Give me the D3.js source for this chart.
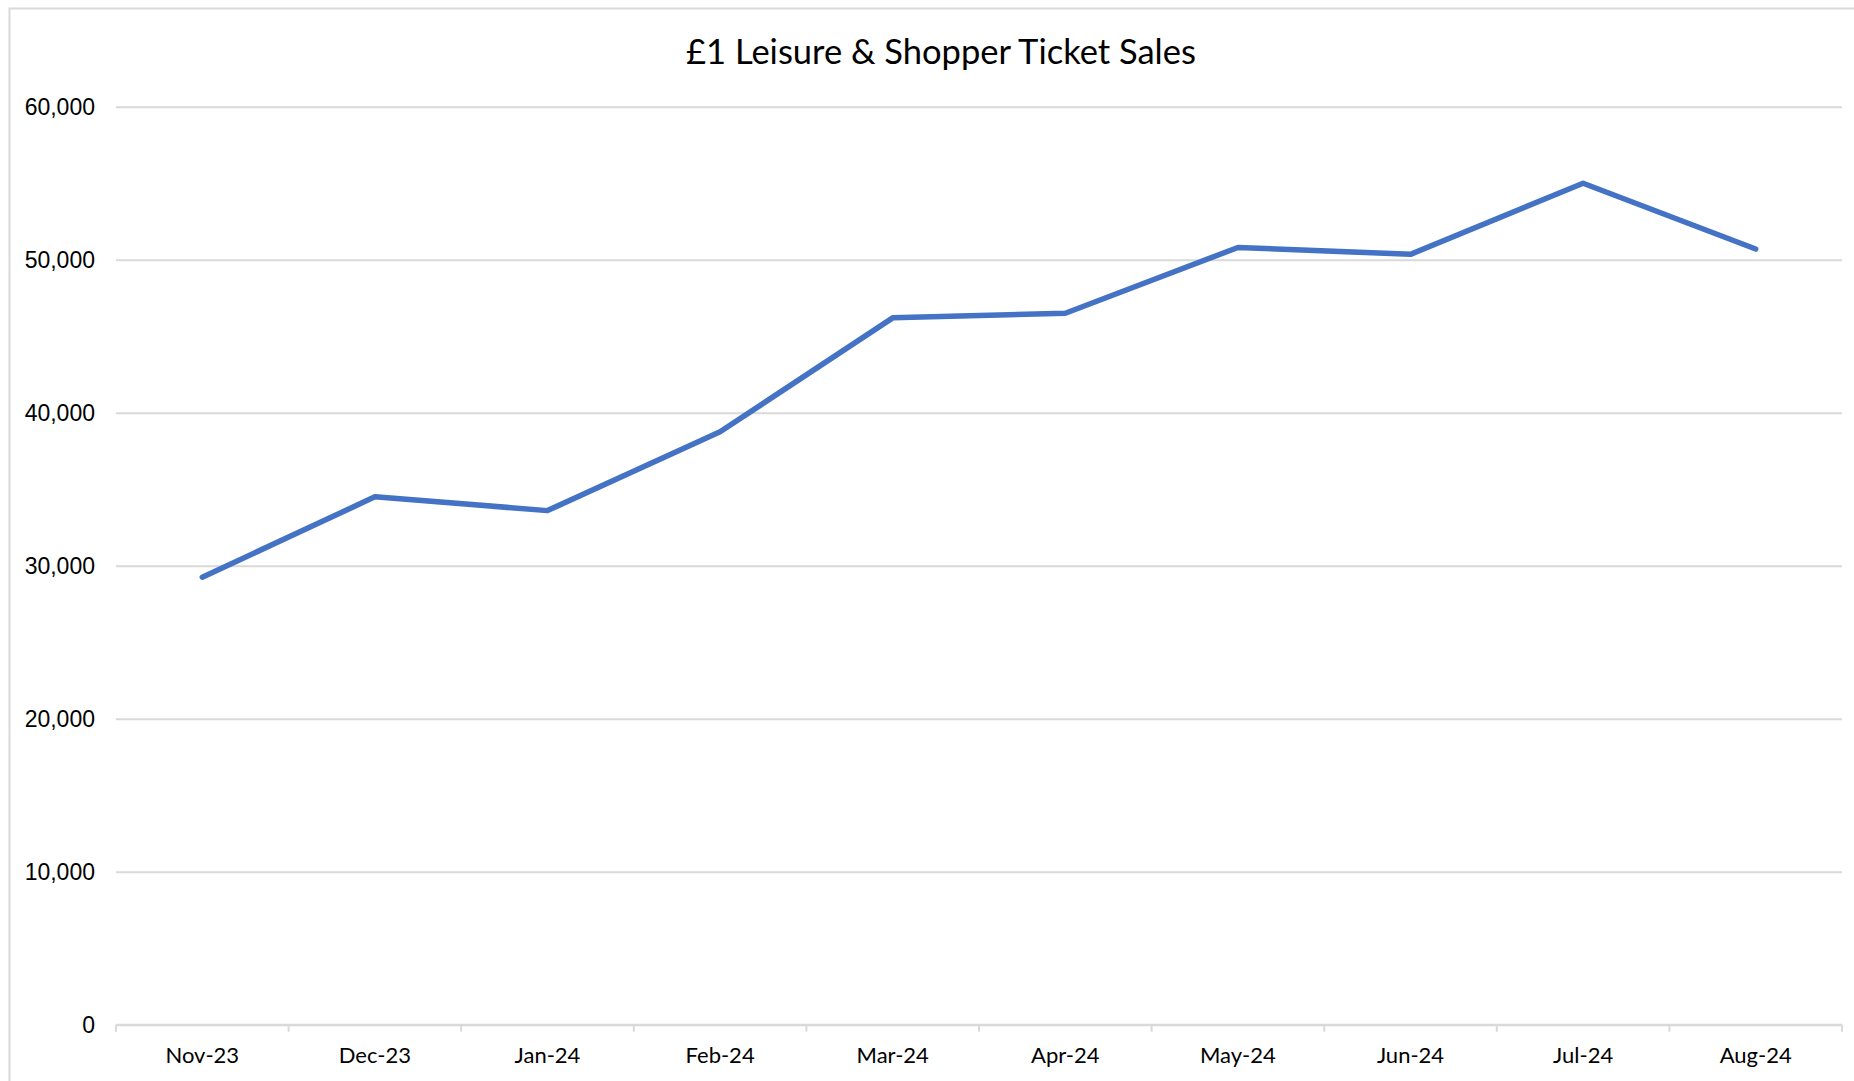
<!DOCTYPE html>
<html>
<head>
<meta charset="utf-8">
<script src="https://cdn.jsdelivr.net/npm/d3@7"></script>
<style>
  body { margin: 0; background: #fff; }
  svg { display: block; font-family: Lato, "Open Sans", sans-serif; }
</style>
</head>
<body>
<div id="chart"></div>
<script>
// Chart data
const months = ["Nov-23", "Dec-23", "Jan-24", "Feb-24", "Mar-24", "Apr-24", "May-24", "Jun-24", "Jul-24", "Aug-24"];
const sales = [29250, 34500, 33600, 38750, 46200, 46500, 50800, 50350, 55000, 50700];
const yTicks = [0, 10000, 20000, 30000, 40000, 50000, 60000];
const title = "£1 Leisure & Shopper Ticket Sales";

const width = 1854, height = 1081;
const margins = {top: 106.7, right: 12, bottom: 56.3, left: 116};

const svg = d3.select("#chart")
  .append("svg")
  .attr("width", width)
  .attr("height", height);

// Chart area border
svg.append("rect")
  .attr("x", 9.5)
  .attr("y", 8.5)
  .attr("width", width + 20)
  .attr("height", height + 20)
  .attr("fill", "none")
  .attr("stroke", "#d9d9d9")
  .attr("stroke-width", 2);

// Scales
const x = d3.scaleBand()
  .domain(months)
  .range([margins.left, width - margins.right]);

const y = d3.scaleLinear()
  .domain([0, 60000])
  .range([height - margins.bottom, margins.top]);

// Gridlines and y labels
const yAxis = d3.axisLeft(y)
  .tickValues(yTicks)
  .tickSize(-(width - margins.right - margins.left))
  .tickPadding(21)
  .tickFormat(d3.format(","));

svg.append("g")
    .attr("transform", `translate(${margins.left},0)`)
  .call(yAxis)
  .call(g => g.select(".domain").remove())
  .call(g => g.selectAll(".tick line").attr("stroke", "#d9d9d9").attr("stroke-width", 2))
  .call(g => g.selectAll(".tick text")
    .attr("fill", "#000")
    .style("font-size", "23px"));

// X axis with ticks between categories
const xg = svg.append("g")
  .attr("transform", `translate(0,${height - margins.bottom})`);

xg.append("line")
  .attr("x1", margins.left)
  .attr("x2", width - margins.right)
  .attr("stroke", "#d9d9d9")
  .attr("stroke-width", 2);

const bounds = months.map(d => x(d)).concat([x.range()[1]]);
xg.selectAll("line.tk")
  .data(bounds)
  .join("line")
    .attr("class", "tk")
    .attr("x1", d => d)
    .attr("x2", d => d)
    .attr("y1", 0)
    .attr("y2", 7)
    .attr("stroke", "#d9d9d9")
    .attr("stroke-width", 2);

xg.selectAll("text")
  .data(months)
  .join("text")
    .attr("x", d => x(d) + x.bandwidth() / 2)
    .attr("y", 31)
    .attr("dy", "0.35em")
    .attr("text-anchor", "middle")
    .style("font-size", "22px")
    .attr("fill", "#000")
    .text(d => d);

// Sales line
const line = d3.line()
  .x((d, i) => x(months[i]) + x.bandwidth() / 2)
  .y(d => y(d));

svg.append("path")
  .datum(sales)
  .attr("d", line)
  .attr("fill", "none")
  .attr("stroke", "#4472c4")
  .attr("stroke-width", 5.5)
  .attr("stroke-linejoin", "round")
  .attr("stroke-linecap", "round");

// Title
svg.append("text")
  .attr("x", 941)
  .attr("y", 52)
  .attr("dy", "0.35em")
  .attr("text-anchor", "middle")
  .style("font-size", "34.5px")
  .attr("fill", "#000")
  .text(title);
</script>
</body>
</html>
